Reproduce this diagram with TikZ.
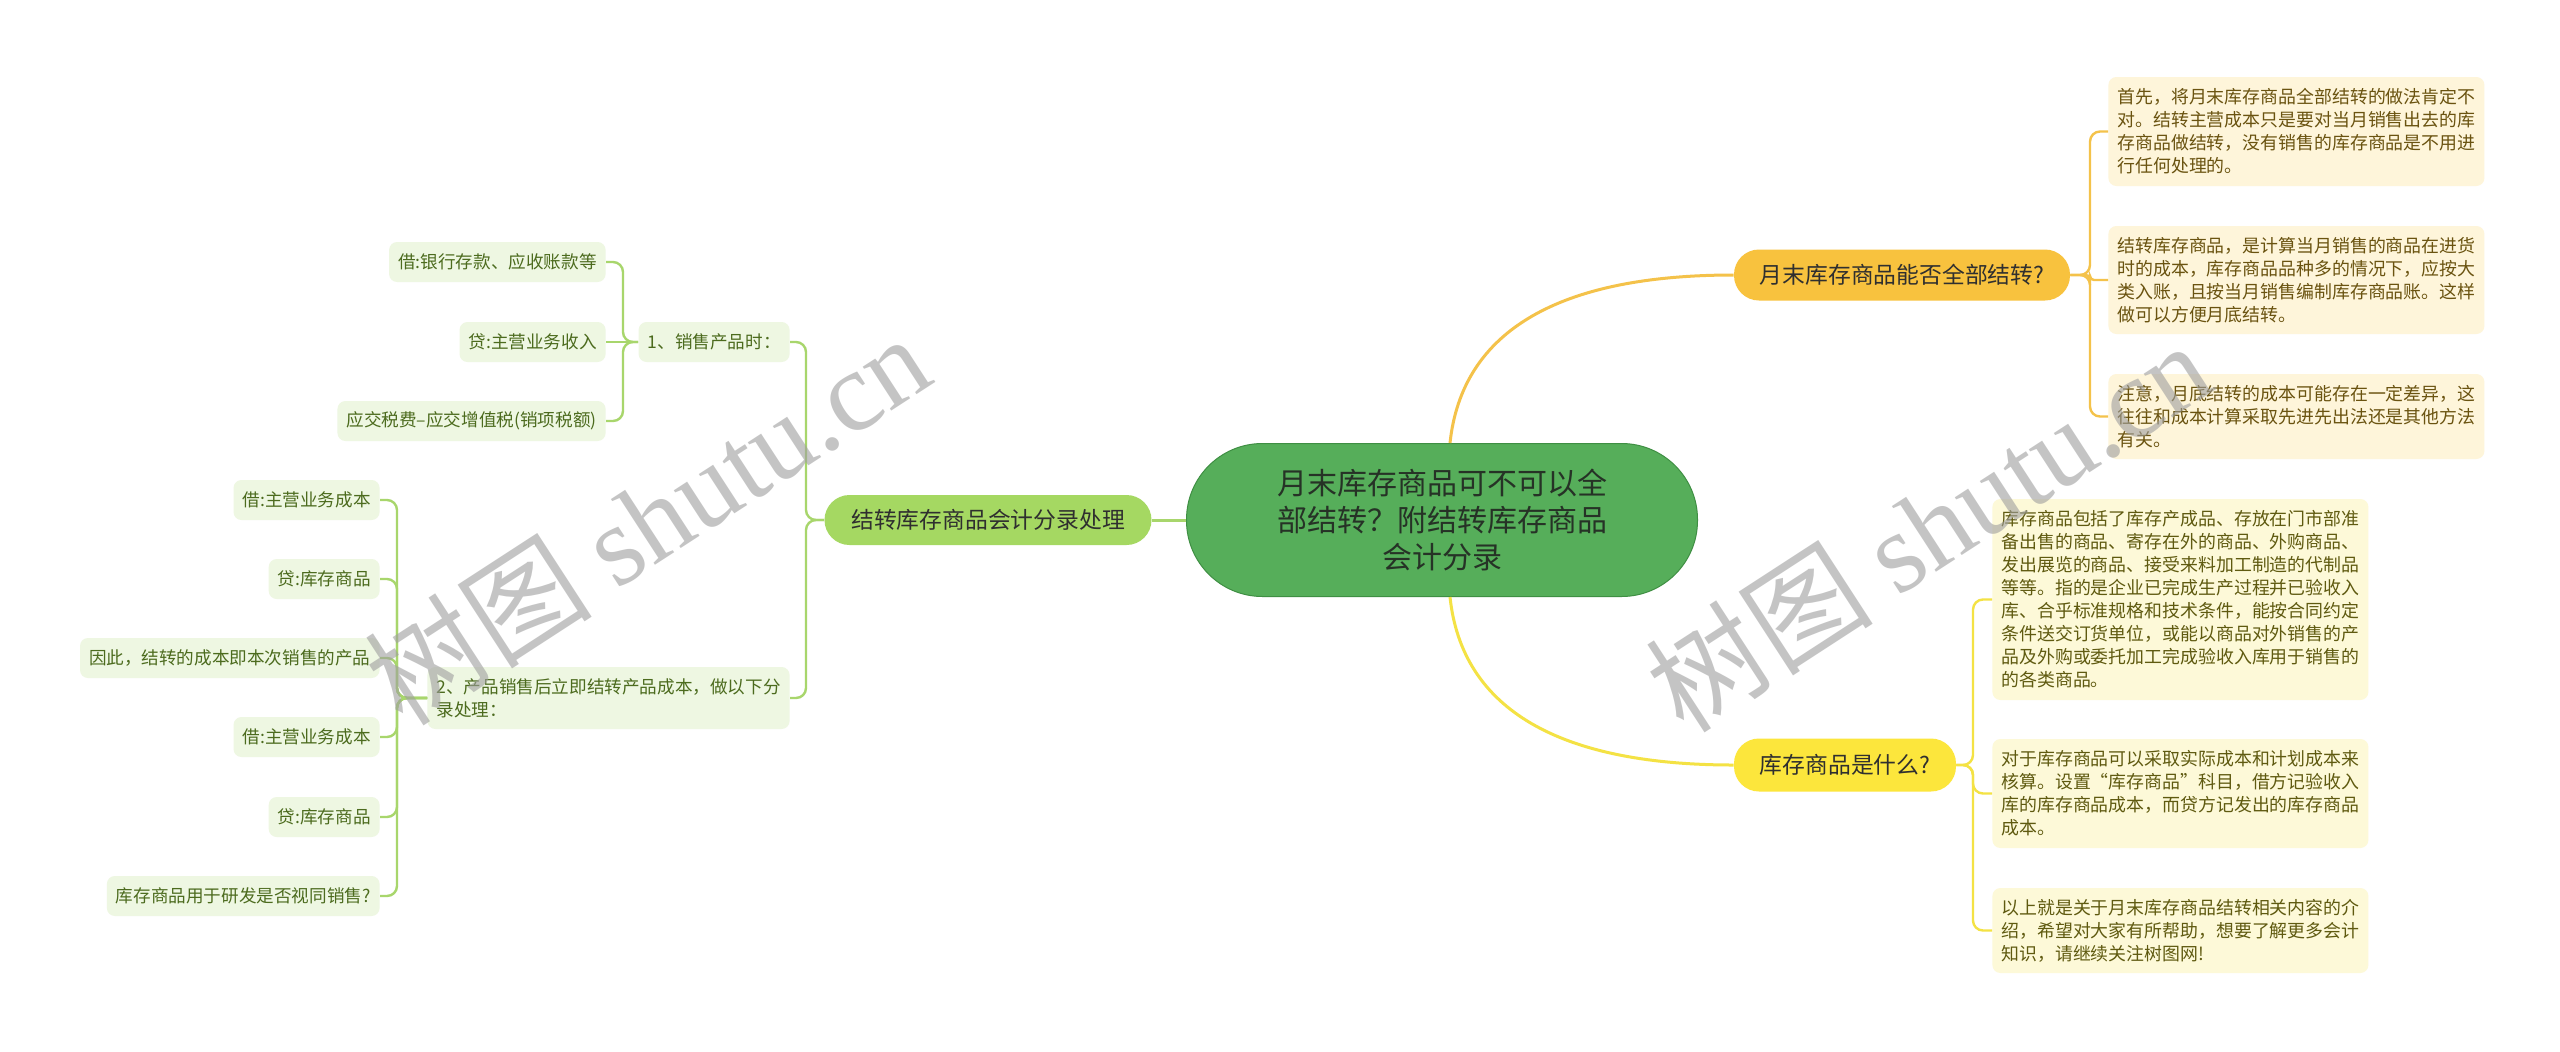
\documentclass[tikz,border=0pt]{standalone}
\usepackage{fontspec}
\setmainfont{Noto Sans CJK SC}
\newfontfamily\wmserif{Liberation Serif}
\usetikzlibrary{calc}
\definecolor{rootfill}{HTML}{56AE5A}
\definecolor{rootdraw}{HTML}{3F8F43}
\definecolor{rootText}{HTML}{263226}
\definecolor{bOne}{HTML}{F8C23E}
\definecolor{bTwo}{HTML}{FCE63C}
\definecolor{bLeft}{HTML}{A5D862}
\definecolor{darkText}{HTML}{2F2F2F}
\definecolor{rleafFill}{HTML}{FEF5DA}
\definecolor{rleafText}{HTML}{6A5310}
\definecolor{yleafFill}{HTML}{FDF9D8}
\definecolor{yleafText}{HTML}{5F5A10}
\definecolor{gleafFill}{HTML}{EEF7E2}
\definecolor{gleafText}{HTML}{4C6B1E}
\definecolor{lineOne}{HTML}{F4C24A}
\definecolor{lineTwo}{HTML}{F4E244}
\definecolor{lineLeft}{HTML}{A8D66C}
\definecolor{wm}{HTML}{9E9E9E}
\tikzset{
  leafR/.style={rectangle, rounded corners=4pt, fill=rleafFill, text=rleafText,
    font=\fontsize{8.95pt}{11.5pt}\selectfont, text width=179pt, align=left,
    inner xsep=4.5pt, inner ysep=0pt, anchor=west},
  leafY/.style={leafR, fill=yleafFill, text=yleafText},
  leafL/.style={rectangle, rounded corners=4pt, fill=gleafFill, text=gleafText,
    font=\fontsize{8.8pt}{11.5pt}\selectfont, inner xsep=4.5pt, inner ysep=0pt,
    minimum height=20pt, anchor=east},
  branch/.style={rectangle, rounded corners=12.5pt, text=darkText, inner sep=0pt,
    font=\fontsize{11.4pt}{14pt}\selectfont},
  connOne/.style={draw=lineOne, line width=1.5pt},
  connTwo/.style={draw=lineTwo, line width=1.5pt},
  connLeft/.style={draw=lineLeft, line width=1.5pt},
  brOne/.style={draw=lineOne, line width=1.2pt, rounded corners=5pt},
  brTwo/.style={draw=lineTwo, line width=1.2pt, rounded corners=5pt},
  brLeft/.style={draw=lineLeft, line width=1.2pt, rounded corners=5pt},
  watermark/.style={text=wm, opacity=0.6, rotate=33, inner sep=0pt,
    font=\fontsize{57pt}{60pt}\selectfont}
}
\begin{document}
\begin{tikzpicture}[x=0.5pt, y=-0.5pt]
\useasboundingbox (0,0) rectangle (2560,1051);
\fill[white] (0,0) rectangle (2560,1051);

% root
\node[rectangle, rounded corners=38pt, fill=rootfill, draw=rootdraw, line width=0.5pt,
  minimum width=255.5pt, minimum height=76.5pt, align=center, inner sep=0pt,
  font=\fontsize{15pt}{18.5pt}\selectfont, text=rootText] (R) at (1442,520)
  {月末库存商品可不可以全\\部结转？附结转库存商品\\会计分录};

% branches
\node[branch, fill=bOne, minimum width=168pt, minimum height=25.5pt] (B1) at (1902,275) {月末库存商品能否全部结转?};
\node[branch, fill=bTwo, minimum width=111pt, minimum height=26.5pt] (B2) at (1845,765) {库存商品是什么?};
\node[branch, fill=bLeft, minimum width=163.5pt, minimum height=25pt] (BL) at (988,520) {结转库存商品会计分录处理};

% right leaves, branch 1
\node[leafR, minimum height=54.5pt] (r1) at (2108,131.5)
 {首先，将月末库存商品全部结转的做法肯定不\\对。结转主营成本只是要对当月销售出去的库\\存商品做结转，没有销售的库存商品是不用进\\行任何处理的。};
\node[leafR, minimum height=54pt] (r2) at (2108,280)
 {结转库存商品，是计算当月销售的商品在进货\\时的成本，库存商品品种多的情况下，应按大\\类入账，且按当月销售编制库存商品账。这样\\做可以方便月底结转。};
\node[leafR, minimum height=42.5pt] (r3) at (2108,416.5)
 {注意，月底结转的成本可能存在一定差异，这\\往往和成本计算采取先进先出法还是其他方法\\有关。};

% right leaves, branch 2
\node[leafY, minimum height=100.5pt] (y1) at (1992,599.5)
 {库存商品包括了库存产成品、存放在门市部准\\备出售的商品、寄存在外的商品、外购商品、\\发出展览的商品、接受来料加工制造的代制品\\等等。指的是企业已完成生产过程并已验收入\\库、合乎标准规格和技术条件，能按合同约定\\条件送交订货单位，或能以商品对外销售的产\\品及外购或委托加工完成验收入库用于销售的\\的各类商品。};
\node[leafY, minimum height=54.5pt] (y2) at (1992,793.5)
 {对于库存商品可以采取实际成本和计划成本来\\核算。设置“库存商品”科目，借方记验收入\\库的库存商品成本，而贷方记发出的库存商品\\成本。};
\node[leafY, minimum height=42.5pt] (y3) at (1992,930.5)
 {以上就是关于月末库存商品结转相关内容的介\\绍，希望对大家有所帮助，想要了解更多会计\\知识，请继续关注树图网!};

% left side
\node[leafL] (s1) at (790,342) {1、销售产品时：};
\node[leafL, align=left, minimum height=31pt] (s2) at (790,698)
 {2、产品销售后立即结转产品成本，做以下分\\录处理：};
\node[leafL] (a1) at (606,262) {借:银行存款、应收账款等};
\node[leafL] (a2) at (606,342) {贷:主营业务收入};
\node[leafL] (a3) at (606,421) {应交税费–应交增值税(销项税额)};
\node[leafL] (c1) at (380,500) {借:主营业务成本};
\node[leafL] (c2) at (380,579) {贷:库存商品};
\node[leafL] (c3) at (380,658) {因此，结转的成本即本次销售的产品};
\node[leafL] (c4) at (380,737) {借:主营业务成本};
\node[leafL] (c5) at (380,817) {贷:库存商品};
\node[leafL] (c6) at (380,896) {库存商品用于研发是否视同销售?};

% connectors root -> branches
\draw[connOne] ([xshift=4pt]R.north) .. controls (1462,330) and (1560,275) .. (B1.west);
\draw[connTwo] ([xshift=4pt]R.south) .. controls (1462,710) and (1560,765) .. (B2.west);
\draw[connLeft] (R.west) -- (BL.east);

% brackets branch 1
\coordinate (k1) at (2090,275);
\draw[brOne] (B1.east) -- (k1) |- (r1.west);
\draw[brOne, rounded corners=2pt] (B1.east) -- (k1) |- (r2.west);
\draw[brOne] (B1.east) -- (k1) |- (r3.west);

% brackets branch 2
\coordinate (k2) at (1973,765);
\draw[brTwo] (B2.east) -- (k2) |- (y1.west);
\draw[brTwo] (B2.east) -- (k2) |- (y2.west);
\draw[brTwo] (B2.east) -- (k2) |- (y3.west);

% brackets left
\coordinate (kL) at (806,520);
\draw[brLeft] (BL.west) -- (kL) |- (s1.east);
\draw[brLeft] (BL.west) -- (kL) |- (s2.east);
\coordinate (k3) at (623,342);
\draw[brLeft] (s1.west) -- (k3) |- (a1.east);
\draw[brLeft] (s1.west) -- (a2.east);
\draw[brLeft] (s1.west) -- (k3) |- (a3.east);
\coordinate (k4) at (397,698);
\draw[brLeft] (s2.west) -- (k4) |- (c1.east);
\draw[brLeft] (s2.west) -- (k4) |- (c2.east);
\draw[brLeft] (s2.west) -- (k4) |- (c3.east);
\draw[brLeft] (s2.west) -- (k4) |- (c4.east);
\draw[brLeft] (s2.west) -- (k4) |- (c5.east);
\draw[brLeft] (s2.west) -- (k4) |- (c6.east);

% watermarks
\node[watermark] (w1) at (647,519) {树图 {\wmserif shutu.cn}};
\node[watermark] (w2) at (1928,526) {树图 {\wmserif shutu.cn}};
\end{tikzpicture}
\end{document}
